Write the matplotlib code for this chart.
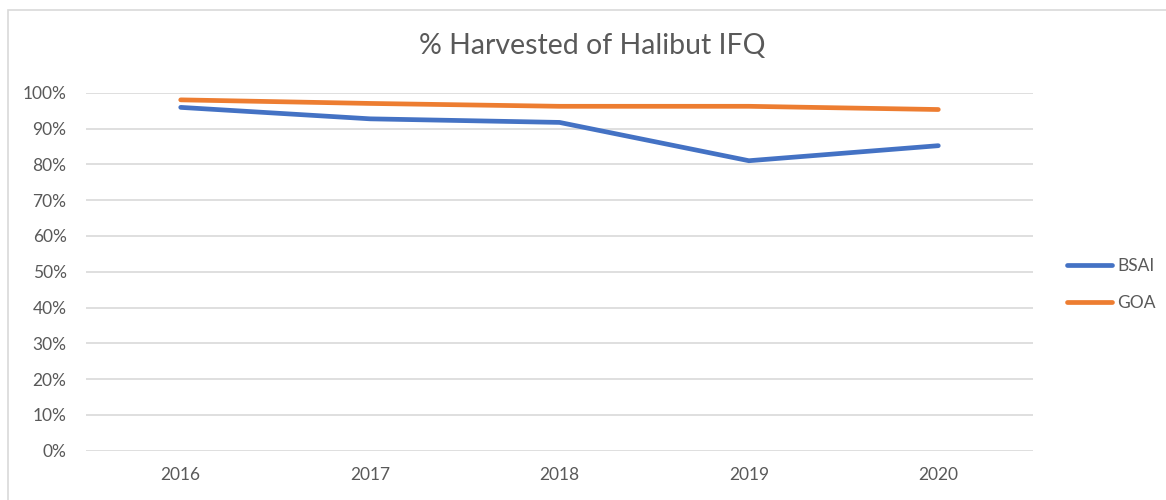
#!/usr/bin/env python3
"""
    % Harvested of Halibut IFQ, BSAI vs GOA, 2016-2020
"""
import matplotlib
matplotlib.use('Agg')
from matplotlib import pyplot as plt
from matplotlib.patches import Rectangle
from matplotlib.ticker import PercentFormatter

YEARS   = ['2016', '2017', '2018', '2019', '2020']
BSAI    = [0.959, 0.927, 0.917, 0.810, 0.852]
GOA     = [0.980, 0.970, 0.962, 0.962, 0.953]

BLUE    = '#4472C4'
ORANGE  = '#ED7D31'
TXT     = '#595959'
GRID    = '#D9D9D9'

plt.rcParams['font.family'] = ['Lato', 'DejaVu Sans']

fig = plt.figure(figsize=(11.66, 5.0), dpi=100)

# chart frame (only left and top visible in the crop)
fig.patches.append(Rectangle((8/1166, -0.1), 1.2, 1 - 9.5/500 + 0.1,
                             transform=fig.transFigure, fill=False,
                             edgecolor=GRID, linewidth=1.2))

ax = fig.add_axes([86/1166, 1 - 450.7/500, (1033 - 86)/1166, (450.7 - 92.7)/500])

x = range(len(YEARS))
ax.plot(x, BSAI, color=BLUE, lw=3.4, solid_capstyle='round', label='BSAI', zorder=3)
ax.plot(x, GOA, color=ORANGE, lw=3.4, solid_capstyle='round', label='GOA', zorder=3)

ax.set_xlim(-0.5, len(YEARS) - 0.5)
ax.set_ylim(0, 1)
ax.set_xticks(list(x))
ax.set_xticklabels(YEARS)
ax.set_yticks([i / 10 for i in range(11)])
ax.yaxis.set_major_formatter(PercentFormatter(1.0, decimals=0))
ax.tick_params(length=0, colors=TXT, labelsize=12.5)
ax.tick_params(axis='x', pad=12)
ax.tick_params(axis='y', pad=14)
ax.grid(axis='y', color=GRID, lw=1.2)
for s in ax.spines.values():
    s.set_visible(False)

fig.text(592/1166, 1 - 46/500, '% Harvested of Halibut IFQ', ha='center', va='center',
         fontsize=20.5, color=TXT)

leg = ax.legend(loc='center left', bbox_to_anchor=(1.036, 0.464), frameon=False,
                fontsize=12.5, labelcolor=TXT, handlelength=2.6, handletextpad=0.3,
                labelspacing=1.25, borderaxespad=0, borderpad=0)

fig.savefig('out.png', dpi=100)
